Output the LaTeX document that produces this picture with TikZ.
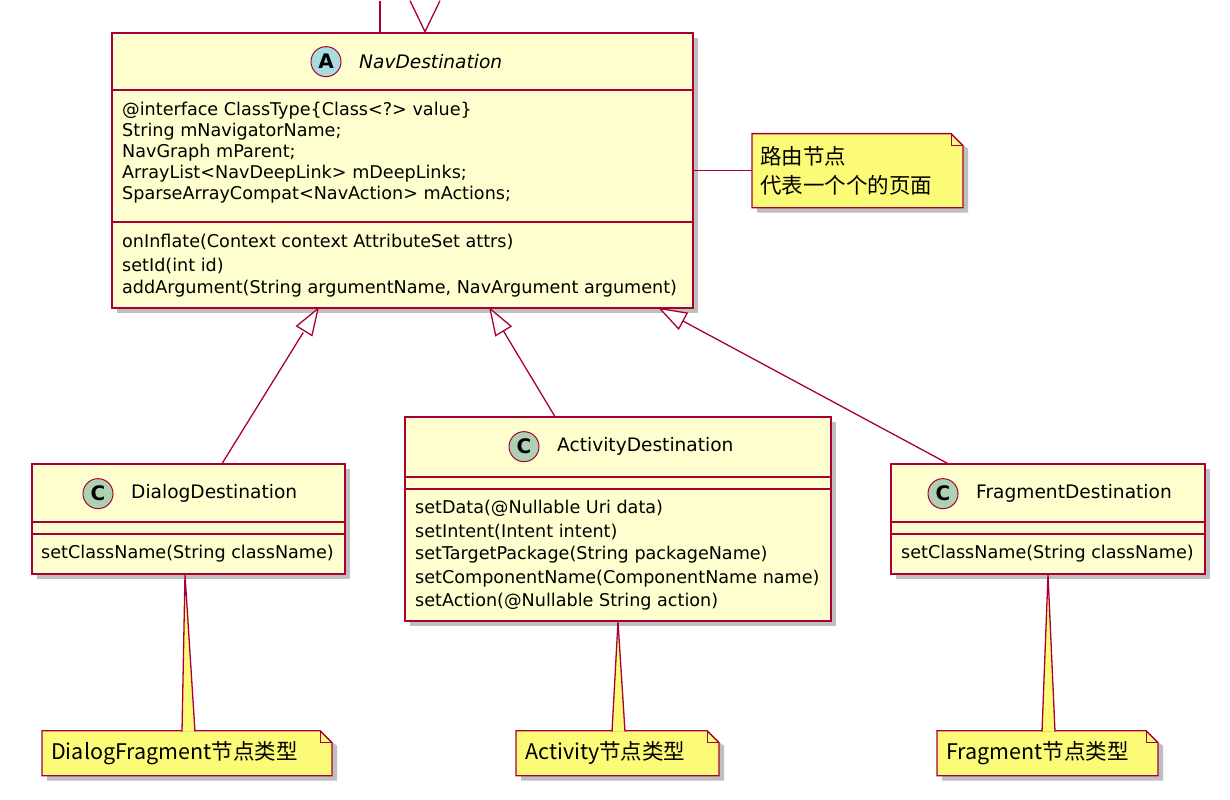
\documentclass[tikz,border=0pt]{standalone}
\usepackage{fontspec}
\setmainfont{DejaVu Sans}
\newfontfamily\cjk{Noto Sans CJK SC}
\usetikzlibrary{calc}
\definecolor{cfill}{HTML}{FEFECE}
\definecolor{cbord}{HTML}{A80036}
\definecolor{nfill}{HTML}{FBFB77}
\definecolor{acirc}{HTML}{A9DCDF}
\definecolor{ccirc}{HTML}{ADD1B2}
\tikzset{
 box/.style={fill=cfill,draw=cbord,line width=1.8pt},
 shad/.style={fill=black!25},
 txt/.style={anchor=west,inner sep=0,font=\fontsize{17.6}{20}\selectfont},
 ttl/.style={anchor=west,inner sep=0,font=\fontsize{18.6}{20}\selectfont},
 circ/.style={circle,draw=cbord,line width=1pt,minimum size=30pt,inner sep=0,font=\fontsize{20}{20}\selectfont\bfseries},
 lnk/.style={draw=cbord,line width=1.3pt},
 note/.style={fill=nfill,draw=cbord,line width=1.3pt},
 ntxt/.style={anchor=west,inner sep=0,font=\cjk\fontsize{21.5}{22}\selectfont},
}
\newcommand{\umlbox}[5]{% name x1 y1 x2 y2
 \fill[shad] (#2+5,#3+5) rectangle (#4+5,#5+5);
 \path[box] (#2,#3) rectangle (#4,#5);
 \coordinate (#1-nw) at (#2,#3); \coordinate (#1-se) at (#4,#5);}
\newcommand{\umlnote}[5]{%
 \fill[shad] (#2+5,#3+5) -- (#4-10,#3+5) -- (#4+5,#3+15) -- (#4+5,#5+5) -- (#2+5,#5+5) -- cycle;
 \path[note] (#2,#3) -- (#4-12,#3) -- (#4,#3+12) -- (#4,#5) -- (#2,#5) -- cycle;
 \draw[cbord,line width=1pt] (#4-12,#3) -- (#4-12,#3+12) -- (#4,#3+12);}
\begin{document}
\begin{tikzpicture}[x=1pt,y=-1pt]
\fill[white] (0,0) rectangle (1230,799);
% top connectors
\draw[lnk] (380,0) -- (380,32);
\draw[lnk] (410,0) -- (425,31) -- (440,0);
% NavDestination
\umlbox{nav}{112}{32}{693}{307}
\draw[cbord,line width=1.8pt] (112,89) -- (693,89) (112,221) -- (693,221);
\node[circ,fill=acirc] (navc) at (326,61) {A};
\node[ttl,font=\fontsize{18.6}{20}\selectfont\itshape] (navt) at (359,61) {NavDestination};
\node[txt] (na1) at (122,110) {@interface ClassType\{Class<?> value\}};
\node[txt] (na2) at (122,131) {String mNavigatorName;};
\node[txt] (na3) at (122,152) {NavGraph mParent;};
\node[txt] (na4) at (122,173) {ArrayList<NavDeepLink> mDeepLinks;};
\node[txt] (na5) at (122,194) {SparseArrayCompat<NavAction> mActions;};
\node[txt] (nm1) at (122,241) {onInflate(Context context AttributeSet attrs)};
\node[txt] (nm2) at (122,265) {setId(int id)};
\node[txt] (nm3) at (122,288) {addArgument(String argumentName, NavArgument argument)};
% note 1
\draw[lnk] (693,170) -- (752,170);
\umlnote{n1}{752}{133}{963}{207}
\node[ntxt] (n1t) at (760,156) {路由节点};
\node[ntxt] (n1u) at (760,185) {代表一个个的页面};
% Dialog
\umlbox{dlg}{32}{463}{345}{573}
\draw[cbord,line width=1.8pt] (32,521) -- (345,521) (32,533) -- (345,533);
\node[circ,fill=ccirc] (dc) at (98,493) {C};
\node[ttl] (dt) at (131,493) {DialogDestination};
\node[txt] (dm) at (41,553) {setClassName(String className)};
% Activity
\umlbox{act}{405}{416}{831}{620}
\draw[cbord,line width=1.8pt] (405,476) -- (831,476) (405,488) -- (831,488);
\node[circ,fill=ccirc] (ac) at (524,446) {C};
\node[ttl] (at) at (557,446) {ActivityDestination};
\node[txt] (am1) at (415,508) {setData(@Nullable Uri data)};
\node[txt] (am2) at (415,531) {setIntent(Intent intent)};
\node[txt] (am3) at (415,554) {setTargetPackage(String packageName)};
\node[txt] (am4) at (415,578) {setComponentName(ComponentName name)};
\node[txt] (am5) at (415,601) {setAction(@Nullable String action)};
% Fragment
\umlbox{frg}{891}{463}{1205}{573}
\draw[cbord,line width=1.8pt] (891,521) -- (1205,521) (891,533) -- (1205,533);
\node[circ,fill=ccirc] (fc) at (943,493) {C};
\node[ttl] (ft) at (976,493) {FragmentDestination};
\node[txt] (fm) at (901,553) {setClassName(String className)};
% inheritance
\coordinate (t1) at (318,308);
\coordinate (t2) at (490,308);
\coordinate (t3) at (660,308);
\draw[lnk] (222,463) -- ($(t1)!28pt!(222,463)$);
\draw[lnk,fill=white] (t1) -- ($(t1)!26pt!(222,463)!9pt!90:(222,463)$) -- ($(t1)!26pt!(222,463)!9pt!-90:(222,463)$) -- cycle;
\draw[lnk] (555,416) -- ($(t2)!26pt!(555,416)$);
\draw[lnk,fill=white] (t2) -- ($(t2)!26pt!(555,416)!9pt!90:(555,416)$) -- ($(t2)!26pt!(555,416)!9pt!-90:(555,416)$) -- cycle;
\draw[lnk] (948,463) -- ($(t3)!26pt!(948,463)$);
\draw[lnk,fill=white] (t3) -- ($(t3)!26pt!(948,463)!9pt!90:(948,463)$) -- ($(t3)!26pt!(948,463)!9pt!-90:(948,463)$) -- cycle;
% bottom notes
\umlnote{n2}{42}{730}{332}{775}
\draw[note] (182,731) -- (185,574) -- (195,731);
\node[ntxt] (n2t) at (51,752) {DialogFragment节点类型};
\umlnote{n3}{516}{730}{719}{775}
\draw[note] (612,731) -- (618,621) -- (625,731);
\node[ntxt] (n3t) at (525,752) {Activity节点类型};
\umlnote{n4}{937}{730}{1158}{775}
\draw[note] (1042,731) -- (1048,574) -- (1055,731);
\node[ntxt] (n4t) at (946,752) {Fragment节点类型};
\end{tikzpicture}
\end{document}
